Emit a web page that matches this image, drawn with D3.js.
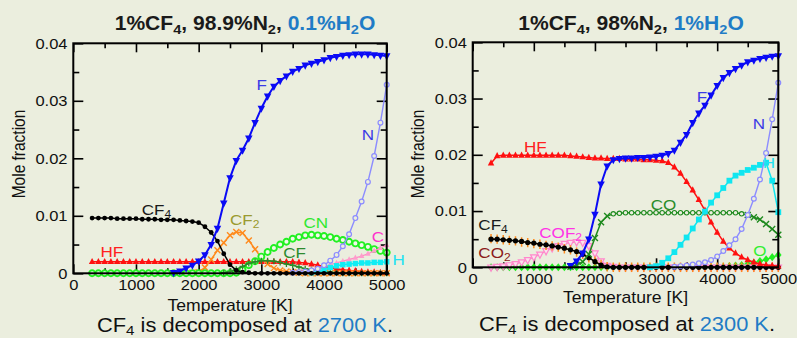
<!DOCTYPE html>
<html><head><meta charset="utf-8">
<script src="https://cdn.jsdelivr.net/npm/d3@7"></script>
<style>
html,body{margin:0;padding:0;background:#EBEEDE;}
svg{display:block;}
</style></head><body>
<svg id="chart" width="797" height="338"></svg>
<script>
const _ = null;
const temps = [
  300,400,500,600,700,800,900,1000,1100,1200,
  1300,1400,1500,1600,1700,1800,1900,2000,2100,2200,
  2300,2400,2500,2600,2700,2800,2900,3000,3100,3200,
  3300,3400,3500,3600,3700,3800,3900,4000,4100,4200,
  4300,4400,4500,4600,4700,4800,4900,5000];
const xTicks = [0,1000,2000,3000,4000,5000];
const xTickLabels = ["0","1000","2000","3000","4000","5000"];
const xMinorTicks = [500,1500,2500,3500,4500];
const yTicks = [0,0.01,0.02,0.03,0.04];
const yTickLabels = ["0","0.01","0.02","0.03","0.04"];
const yMinorTicks = [0.005,0.015,0.025,0.035];

// ---- Left panel: 1%CF4, 98.9%N2, 0.1%H2O ----
const left_CF4 = [
  .0096,.0096,.0096,.0096,.0095,.0095,.0095,.0095,.0094,.0094,
  .0094,.0093,.0093,.0093,.0092,.0091,.0090,.0088,.0081,.0071,
  .0056,.0034,.0015,.0005,.0002,.0001,0,0,0,0,
  0,0,0,0,0,0,0,0,0,0,
  0,0,0,0,0,0,0,0];
const left_HF = [
  .002,.002,.002,.002,.002,.002,.002,.002,.002,.002,
  .002,.002,.002,.002,.002,.002,.002,.002,.002,.002,
  .002,.002,.002,.002,.002,.002,.002,.002,.002,.002,
  .002,.002,.002,.0019,.0018,.0016,.0014,.0012,.001,.0008,
  .0006,.0005,.0004,.0003,.0002,.0002,.0001,.0001];
const left_F = [
  _,_,_,_,_,_,_,_,_,_,
  _,_,_,.0001,.0004,.0009,.0014,.0021,.0032,.005,
  .0078,.0122,.0166,.0196,.0214,.0235,.0262,.0287,.0308,.0325,
  .0335,.0343,.0351,.0356,.0362,.0365,.0368,.0371,.0375,.0377,
  .0379,.038,.0381,.0381,.0381,.038,.0379,.0378];
const left_CF2 = [
  _,_,_,_,_,_,_,_,_,_,
  _,_,_,_,_,_,.0001,.0002,.001,.0024,
  .004,.0053,.0066,.0072,.007,.0057,.0042,.0027,.0016,.0009,
  .0005,.0003,.0002,.0001,0,0,0,0,0,0,
  0,0,0,0,0,0,0,0];
const left_CN = [
  0,0,0,0,0,0,0,0,0,0,
  0,0,0,0,0,0,0,0,0,0,
  0,0,0,.0001,.0006,.0014,.0021,.0029,.0037,.0044,
  .005,.0055,.006,.0063,.0066,.0067,.0066,.0065,.0063,.006,
  .0058,.0055,.0052,.0049,.0046,.0042,.0039,.0036];
const left_CF = [
  _,_,_,_,_,_,_,_,_,_,
  _,_,_,_,_,_,_,_,_,_,
  _,.0001,.0003,.0007,.0012,.0017,.002,.0022,.0022,.0021,
  .0019,.0016,.0014,.0011,.0008,.0006,.0004,.0003,.0002,.0001,
  0,0,0,0,0,0,0,0];
const left_N = [
  _,_,_,_,_,_,_,_,_,_,
  _,_,_,_,_,_,_,_,_,_,
  _,_,_,_,_,_,_,_,_,_,
  _,_,.0001,.0002,.0003,.0005,.0008,.0014,.0022,.0032,
  .0047,.0068,.0096,.0125,.0159,.0204,.0262,.0328];
const left_C = [
  _,_,_,_,_,_,_,_,_,_,
  _,_,_,_,_,_,_,_,_,_,
  _,_,_,_,_,_,_,_,_,_,
  _,_,_,.0002,.0003,.0005,.0008,.0011,.0015,.0018,
  .0021,.0024,.0027,.003,.0034,.0039,.0044,.0049];
const left_H = [
  _,_,_,_,_,_,_,_,_,_,
  _,_,_,_,_,_,_,_,_,_,
  _,_,_,_,_,_,_,_,_,_,
  _,_,_,_,_,.0001,.0003,.0006,.001,.0013,
  .0015,.0016,.0017,.0018,.0018,.0019,.0019,.002];

// ---- Right panel: 1%CF4, 98%N2, 1%H2O ----
const right_HF = [
  .0185,.0198,.0199,.0199,.0199,.0199,.0199,.0199,.0199,.0199,
  .0199,.0199,.0199,.0198,.0197,.0196,.0195,.0194,.0194,.0193,
  .0193,.0193,.0192,.0192,.0192,.0191,.0191,.019,.0189,.0186,
  .0178,.0167,.0152,.0137,.012,.0101,.008,.0062,.0046,.0034,
  .0025,.0018,.0013,.0009,.0006,.0004,.0003,.0002];
const right_F = [
  _,_,_,_,_,_,_,_,_,_,
  _,_,_,.0003,.0011,.0025,.005,.0094,.0148,.018,
  .0191,.0193,.0194,.0194,.0195,.0195,.0196,.0197,.0199,.0202,
  .0208,.0222,.0236,.0257,.0274,.0288,.0306,.0323,.0337,.0346,
  .0353,.0359,.0365,.0368,.0371,.0373,.0375,.0376];
const right_CO = [
  _,_,_,_,_,_,_,_,_,_,
  _,_,_,.0001,.0004,.001,.0023,.0052,.008,.0091,
  .0095,.0096,.0097,.0097,.0097,.0097,.0097,.0097,.0097,.0097,
  .0097,.0097,.0097,.0097,.0097,.0097,.0097,.0097,.0097,.0097,
  .0097,.0095,.0093,.0089,.0085,.0077,.0068,.0058];
const right_CF4 = [
  .005,.005,.0049,.0048,.0047,.0046,.0044,.0043,.0041,.004,
  .0038,.0036,.0034,.0031,.0028,.0023,.0017,.001,.0004,.0001,
  0,0,0,0,0,0,0,0,0,0,
  0,0,0,0,0,0,0,0,0,0,
  0,0,0,0,0,0,0,0];
const right_CO2 = [
  .0051,.005,.0049,.0048,.0047,.0045,.0044,.0042,.0041,.0039,
  .0038,.0036,.0033,.0031,.0027,.0023,.0017,.0011,.0005,.0001,
  0,0,0,0,0,0,0,0,0,0,
  0,0,0,0,0,0,0,0,0,0,
  0,0,0,0,0,0,0,0];
const right_COF2 = [
  0,.0001,.0002,.0004,.0006,.0009,.0013,.0018,.0023,.0029,
  .0034,.0038,.0042,.0044,.0045,.0044,.0038,.0025,.0011,.0003,
  .0001,0,0,0,0,0,0,0,0,0,
  0,0,0,0,0,0,0,0,0,0,
  0,0,0,0,0,0,0,0];
const right_H = [
  _,_,_,_,_,_,_,_,_,_,
  _,_,_,_,_,_,_,_,_,_,
  _,_,_,_,_,_,0,.0002,.0008,.0016,
  .0027,.004,.0053,.0069,.0085,.0099,.0115,.0128,.0141,.0154,
  .0163,.0168,.0173,.0177,.0182,.0186,.0154,.0098];
const right_N = [
  _,_,_,_,_,_,_,_,_,_,
  _,_,_,_,_,_,_,_,_,_,
  _,_,_,_,_,_,_,_,_,_,
  .0001,.0002,.0003,.0005,.0007,.0009,.0013,.0019,.0029,.0039,
  .005,.0068,.0093,.0122,.0156,.0203,.0263,.0328];
const right_O = [
  0,0,0,0,0,0,0,0,0,0,
  0,0,0,0,0,0,0,0,0,0,
  0,0,0,0,0,0,0,0,0,0,
  0,0,0,0,0,0,0,0,.0001,.0002,
  .0003,.0004,.0006,.0008,.0011,.0014,.0018,.0022];

// ---------------- drawing ----------------
const FONT = '"Liberation Sans", Arial, Helvetica, sans-serif';
const SX = 1.1;
const BG = '#EBEEDE';
const TITLE_BLUE = '#1F7CC6';
const svg = d3.select('#chart');
svg.append('rect').attr('width',797).attr('height',338).attr('fill',BG);

function addText(g, parts, x, y, o) {
  const size = o.size, subSize = o.subSize || size*0.72, shift = o.subShift || 4;
  const t = g.append('text')
    .attr('transform', `translate(${x},${y}) scale(${o.sx||SX},1)`)
    .attr('text-anchor', o.anchor || 'start')
    .attr('font-size', size).attr('font-weight', o.weight || 'normal')
    .attr('fill', o.color || '#000').style('font-family', FONT);
  let shifted = false;
  parts.forEach(p => {
    const ts = t.append('tspan').text(p.t);
    if (p.c) ts.attr('fill', p.c);
    if (p.sub) {
      ts.attr('font-size', subSize);
      if (!shifted) { ts.attr('dy', shift); shifted = true; }
    } else if (shifted) { ts.attr('dy', -shift); shifted = false; }
  });
  return t;
}

function markerPath(shape, s) {
  const h = s/2;
  switch (shape) {
    case 'triUp': return `M0,${-s*0.6}L${h},${s*0.35}L${-h},${s*0.35}Z`;
    case 'triDown': return `M0,${s*0.6}L${h},${-s*0.35}L${-h},${-s*0.35}Z`;
    case 'square': return `M${-h},${-h}h${s}v${s}h${-s}Z`;
    case 'diamond': return `M0,${-h*1.25}L${h},0L0,${h*1.25}L${-h},0Z`;
    case 'x': return `M${-h},${-h}L${h},${h}M${-h},${h}L${h},${-h}`;
    case 'plus': return `M${-h},0H${h}M0,${-h}V${h}`;
    case 'vplus': return `M${-h*0.6},0H${h*0.6}M0,${-h*1.1}V${h*1.1}`;
    default: return d3.symbol(d3.symbolCircle, Math.PI*h*h)();
  }
}

function drawChart(cfg) {
  const g = svg.append('g');
  const x = d3.scaleLinear().domain([0,5000]).range(cfg.xRange);
  const y = d3.scaleLinear().domain([0,0.04]).range(cfg.yRange);
  const [xl, xr] = cfg.xRange, [yb, yt] = cfg.yRange;

  const styleAxis = sel => {
    sel.select('.domain').remove();
    sel.selectAll('line').attr('stroke','#000').attr('stroke-width',1.6);
  };
  g.append('g').attr('transform',`translate(0,${yb})`)
    .call(d3.axisBottom(x).tickValues(xTicks).tickSize(-9).tickSizeOuter(0)
      .tickFormat((d,i)=>xTickLabels[i]))
    .call(styleAxis)
    .call(a => a.selectAll('text').attr('y', cfg.xLabelDy).attr('dy', null)
      .attr('transform',`scale(${SX},1)`).attr('fill','#111')
      .attr('font-size',15).style('font-family',FONT));
  g.append('g').attr('transform',`translate(0,${yb})`)
    .call(d3.axisBottom(x).tickValues(xMinorTicks).tickSize(-5).tickSizeOuter(0).tickFormat(''))
    .call(styleAxis);
  g.append('g').attr('transform',`translate(0,${yt})`)
    .call(d3.axisTop(x).tickValues(xTicks).tickSize(-9).tickSizeOuter(0).tickFormat(''))
    .call(styleAxis);
  g.append('g').attr('transform',`translate(0,${yt})`)
    .call(d3.axisTop(x).tickValues(xMinorTicks).tickSize(-5).tickSizeOuter(0).tickFormat(''))
    .call(styleAxis);
  g.append('g').attr('transform',`translate(${xl},0)`)
    .call(d3.axisLeft(y).tickValues(yTicks).tickSize(-10).tickSizeOuter(0)
      .tickFormat((d,i)=>yTickLabels[i]))
    .call(styleAxis)
    .call(a => a.selectAll('text').attr('x', -cfg.yLabelGap/SX)
      .attr('transform',`scale(${SX},1)`).attr('fill','#111')
      .attr('font-size',15).style('font-family',FONT));
  g.append('g').attr('transform',`translate(${xl},0)`)
    .call(d3.axisLeft(y).tickValues(yMinorTicks).tickSize(-6).tickSizeOuter(0).tickFormat(''))
    .call(styleAxis);
  g.append('g').attr('transform',`translate(${xr},0)`)
    .call(d3.axisRight(y).tickValues(yTicks).tickSize(-10).tickSizeOuter(0).tickFormat(''))
    .call(styleAxis);
  g.append('g').attr('transform',`translate(${xr},0)`)
    .call(d3.axisRight(y).tickValues(yMinorTicks).tickSize(-6).tickSizeOuter(0).tickFormat(''))
    .call(styleAxis);

  const line = d3.line().defined(d => d.v != null).x(d => x(d.t)).y(d => y(d.v));
  cfg.series.forEach(s => {
    const pts = temps.map((t,i) => ({t, v: s.data[i]}));
    g.append('path').datum(pts).attr('d', line).attr('fill','none')
      .attr('stroke', s.color).attr('stroke-width', s.lw).attr('stroke-linejoin','round');
    const mk = g.append('g');
    pts.filter(d => d.v != null).forEach(d => {
      const m = typeof s.marker === 'function' ? s.marker(d.t) : s.marker;
      const p = mk.append('path').attr('d', markerPath(m.shape, m.size))
        .attr('transform', `translate(${x(d.t)},${y(d.v)})`);
      if (m.shape === 'x' || m.shape === 'plus' || m.shape === 'vplus') {
        p.attr('fill','none').attr('stroke', m.stroke).attr('stroke-width', m.sw || 1.5);
      } else {
        p.attr('fill', m.fill || 'none');
        if (m.stroke) p.attr('stroke', m.stroke).attr('stroke-width', m.sw || 1);
      }
    });
  });

  g.append('rect').attr('x', xl).attr('y', yt).attr('width', xr-xl).attr('height', yb-yt)
    .attr('fill','none').attr('stroke','#000').attr('stroke-width',2);

  cfg.labels.forEach(l => {
    addText(g, l.parts, x(l.at[0]), y(l.at[1]), {size:15.5, color:l.color, subSize:11, subShift:3});
  });

  addText(g, cfg.title, cfg.titleX, 29.5, {size:19.5, weight:'bold', anchor:'middle', color:'#1a1a1a', subSize:13.5, subShift:4, sx:1.08});
  addText(g, [{t:'Temperature [K]'}], (xl+xr)/2, cfg.xTitleY, {size:16, anchor:'middle', color:'#111'});
  g.append('text')
    .attr('transform', `translate(${cfg.yTitleX},${cfg.yTitleY}) rotate(-90) scale(1,1.15)`)
    .attr('text-anchor','middle').attr('font-size',15.5).attr('fill','#111')
    .style('font-family',FONT).text('Mole fraction');
  addText(g, cfg.caption, cfg.capX, cfg.capY, {size:19.5, anchor:'middle', color:'#111', subSize:13.5, subShift:3, sx:1.12});
}

const cLbl = (t, sub) => sub ? [{t}, {t:sub, sub:true}] : [{t}];

drawChart({
  xRange:[73.3,386.7], yRange:[273.3,43.3],
  xLabelDy:16.7, yLabelGap:5.8, xTitleY:310.5, yTitleX:25, yTitleY:154,
  titleX:245,
  title:[{t:'1%CF'},{t:'4',sub:true},{t:', 98.9%N'},{t:'2',sub:true},{t:', '},
         {t:'0.1%H',c:TITLE_BLUE},{t:'2',sub:true,c:TITLE_BLUE},{t:'O',c:TITLE_BLUE}],
  capX:245, capY:332,
  caption:[{t:'CF'},{t:'4',sub:true},{t:' is decomposed at '},{t:'2700 K',c:TITLE_BLUE},{t:'.'}],
  series:[
    {data:left_HF, color:'#FF1010', lw:1.5, marker:{shape:'triUp', size:6.5, fill:'#FF1010'}},
    {data:left_CF2, color:'#FF8A1C', lw:1.5, marker:{shape:'x', size:6, stroke:'#FF8A1C', sw:1.4}},
    {data:left_CN, color:'#22F022', lw:1.5, marker:{shape:'circle', size:6, fill:'#F2F8EA', stroke:'#22F022', sw:1.9}},
    {data:left_CF, color:'#2A8A2A', lw:1.5, marker:{shape:'plus', size:6, stroke:'#2A8A2A', sw:1.3}},
    {data:left_C, color:'#FF8CC4', lw:1.3, marker:{shape:'triUp', size:5.5, fill:'#FF9CCC'}},
    {data:left_H, color:'#10EEF4', lw:1.5, marker:{shape:'square', size:5.5, fill:'#10EEF4'}},
    {data:left_N, color:'#8C8CFF', lw:1.4, marker:{shape:'circle', size:4.8, fill:BG, stroke:'#8C8CFF', sw:1.2}},
    {data:left_CF4, color:'#000', lw:1.5, marker:{shape:'circle', size:4.8, fill:'#000'}},
    {data:left_F, color:'#0A0AF5', lw:2, marker:{shape:'triDown', size:7.5, fill:'#0A0AF5'}}
  ],
  labels:[
    {parts:cLbl('F'), at:[2923,.0319], color:'#3B3BE6'},
    {parts:cLbl('N'), at:[4601,.0231], color:'#3B3BE6'},
    {parts:cLbl('CF','4'), at:[1091,.0101], color:'#1a1a1a'},
    {parts:cLbl('CF','2'), at:[2500,.0084], color:'#9A9A30'},
    {parts:cLbl('HF'), at:[434,.0029], color:'#FF2020'},
    {parts:cLbl('CN'), at:[3673,.0079], color:'#30E830'},
    {parts:cLbl('CF'), at:[3350,.00266], color:'#2E8B2E'},
    {parts:cLbl('C'), at:[4761,.0055], color:'#FF33CC'},
    {parts:cLbl('H'), at:[5093,.00144], color:'#22E2F2'}
  ]
});

drawChart({
  xRange:[472.7,778.3], yRange:[267.3,42.3],
  xLabelDy:16.3, yLabelGap:5.8, xTitleY:303, yTitleX:424, yTitleY:154,
  titleX:631,
  title:[{t:'1%CF'},{t:'4',sub:true},{t:', 98%N'},{t:'2',sub:true},{t:', '},
         {t:'1%H',c:TITLE_BLUE},{t:'2',sub:true,c:TITLE_BLUE},{t:'O',c:TITLE_BLUE}],
  capX:627, capY:331,
  caption:[{t:'CF'},{t:'4',sub:true},{t:' is decomposed at '},{t:'2300 K',c:TITLE_BLUE},{t:'.'}],
  series:[
    {data:right_O, color:'#22EE22', lw:1.5, marker:{shape:'diamond', size:6.5, fill:'#22EE22'}},
    {data:right_COF2, color:'#FF88CC', lw:1.3, marker:{shape:'triDown', size:6.5, fill:'#FBE3EE', stroke:'#FF88CC', sw:1.2}},
    {data:right_CO2, color:'#FF8A1C', lw:1, marker:{shape:'vplus', size:8.5, stroke:'#FF8A1C', sw:1.5}},
    {data:right_CF4, color:'#000', lw:1.5, marker:{shape:'circle', size:5.2, fill:'#000'}},
    {data:right_CO, color:'#1E8A1E', lw:1.5,
      marker: t => (t < 2300 || t > 4400) ? {shape:'x', size:6, stroke:'#1E8A1E', sw:1.4}
                                          : {shape:'circle', size:4.4, fill:BG, stroke:'#1E8A1E', sw:1.1}},
    {data:right_HF, color:'#FF1010', lw:1.5, marker:{shape:'triUp', size:6.5, fill:'#FF1010'}},
    {data:right_H, color:'#10E6F0', lw:1.5, marker:{shape:'square', size:5.8, fill:'#10E6F0'}},
    {data:right_N, color:'#8C8CFF', lw:1.4, marker:{shape:'circle', size:4.8, fill:BG, stroke:'#8C8CFF', sw:1.2}},
    {data:right_F, color:'#0A0AF5', lw:2, marker:{shape:'triDown', size:7.5, fill:'#0A0AF5'}}
  ],
  labels:[
    {parts:cLbl('HF'), at:[839,.02055], color:'#FF2020'},
    {parts:cLbl('F'), at:[3665,.02944], color:'#3B3BE6'},
    {parts:cLbl('N'), at:[4581,.02453], color:'#3B3BE6'},
    {parts:cLbl('H'), at:[4745,.0176], color:'#22E2F2'},
    {parts:cLbl('CO'), at:[2912,.01019], color:'#2A8C2A'},
    {parts:cLbl('CF','4'), at:[92,.00663], color:'#1a1a1a'},
    {parts:cLbl('COF','2'), at:[1090,.00516], color:'#FF33E6'},
    {parts:cLbl('CO','2'), at:[92,.0016], color:'#8B1A1A'},
    {parts:cLbl('O'), at:[4591,.00206], color:'#33EE33'}
  ]
});
</script>
</body></html>
